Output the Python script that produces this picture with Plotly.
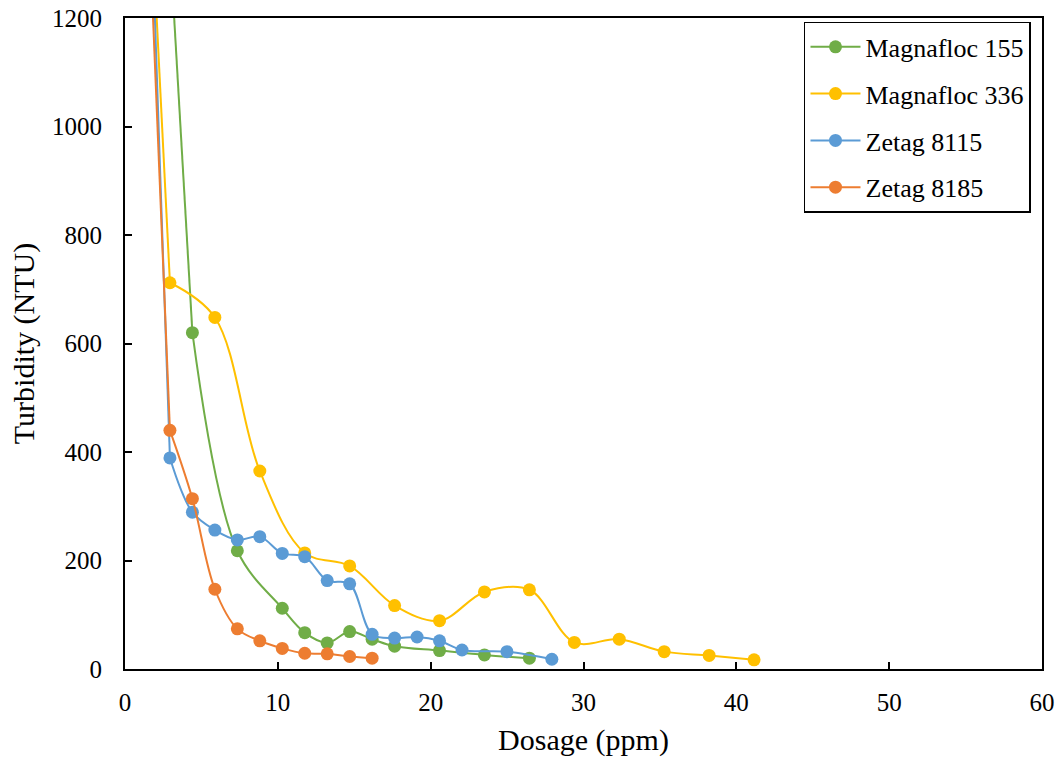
import plotly.graph_objects as go

# Magnafloc 155 (green); first value lies above the plotted range
m155_x = [1.47, 4.41, 7.35, 10.29, 11.76, 13.23, 14.70, 16.17, 17.64, 20.58, 23.52, 26.46]
m155_y = [2050, 620, 218, 112, 67, 48, 69, 55, 42, 34, 26, 20]

# Magnafloc 336 (yellow)
m336_x = [1.47, 2.94, 5.88, 8.82, 11.76, 14.70, 17.64, 20.58, 23.52, 26.46, 29.40, 32.34, 35.28, 38.22, 41.16]
m336_y = [1540, 712, 648, 365, 214, 190, 117, 89, 142, 146, 49, 55, 32, 25, 17]

# Zetag 8115 (blue)
z8115_x = [1.47, 2.94, 4.41, 5.88, 7.35, 8.82, 10.29, 11.76, 13.23, 14.70, 16.17, 17.64, 19.11, 20.58, 22.05, 24.99, 27.93]
z8115_y = [1600, 389, 289, 256, 238, 244, 213, 207, 163, 157, 64, 57, 59, 52, 35, 32, 18]

# Zetag 8185 (orange)
z8185_x = [1.47, 2.94, 4.41, 5.88, 7.35, 8.82, 10.29, 11.76, 13.23, 14.70, 16.17]
z8185_y = [1450, 440, 314, 147, 74, 52, 38, 29, 28, 23, 20]

series = [
    ("Magnafloc 155", m155_x, m155_y, "#70AD47"),
    ("Magnafloc 336", m336_x, m336_y, "#FFC000"),
    ("Zetag 8115", z8115_x, z8115_y, "#5B9BD5"),
    ("Zetag 8185", z8185_x, z8185_y, "#ED7D31"),
]

FONT = "Liberation Serif, Times New Roman, serif"

fig = go.Figure()
for i, (name, xs, ys, col) in enumerate(series):
    # segment running off the top of the plot (first, unplotted-marker value)
    fig.add_trace(go.Scatter(
        x=xs[:2], y=ys[:2], mode="lines", showlegend=False, hoverinfo="skip",
        line=dict(color=col, width=2),
        legendgroup=f"g{i}",
    ))
    fig.add_trace(go.Scatter(
        x=xs[1:], y=ys[1:], name=name, mode="lines+markers",
        line=dict(color=col, width=2, shape="spline", smoothing=1.0),
        marker=dict(color=col, size=13),
        legendgroup=f"g{i}",
    ))

fig.update_layout(
    width=1064, height=762,
    margin=dict(l=125, r=22, t=18, b=93),
    paper_bgcolor="white", plot_bgcolor="white",
    font=dict(family=FONT, color="black", size=25),
    showlegend=True,
    legend=dict(
        x=0.988, y=0.994, xanchor="right", yanchor="top",
        bordercolor="black", borderwidth=1.5, bgcolor="white",
        font=dict(family=FONT, size=26, color="black"),
        tracegroupgap=10, itemwidth=50,
    ),
    xaxis=dict(
        range=[0, 60], tickvals=[0, 10, 20, 30, 40, 50, 60],
        showgrid=False, zeroline=False, automargin=False,
        showline=True, linecolor="black", linewidth=2, mirror=True,
        ticks="inside", ticklen=7, tickwidth=2, tickcolor="black",
        tickfont=dict(family=FONT, size=25),
        ticklabelstandoff=10,
        title=dict(text="Dosage (ppm)", font=dict(family=FONT, size=30), standoff=14),
    ),
    yaxis=dict(
        range=[0, 1200], tickvals=[0, 200, 400, 600, 800, 1000, 1200],
        showgrid=False, zeroline=False, automargin=False,
        showline=True, linecolor="black", linewidth=2, mirror=True,
        ticks="inside", ticklen=7, tickwidth=2, tickcolor="black",
        tickfont=dict(family=FONT, size=25),
        ticklabelstandoff=16,
        title=dict(text="Turbidity (NTU)", font=dict(family=FONT, size=30), standoff=9),
    ),
)

fig.write_html("out.html")
